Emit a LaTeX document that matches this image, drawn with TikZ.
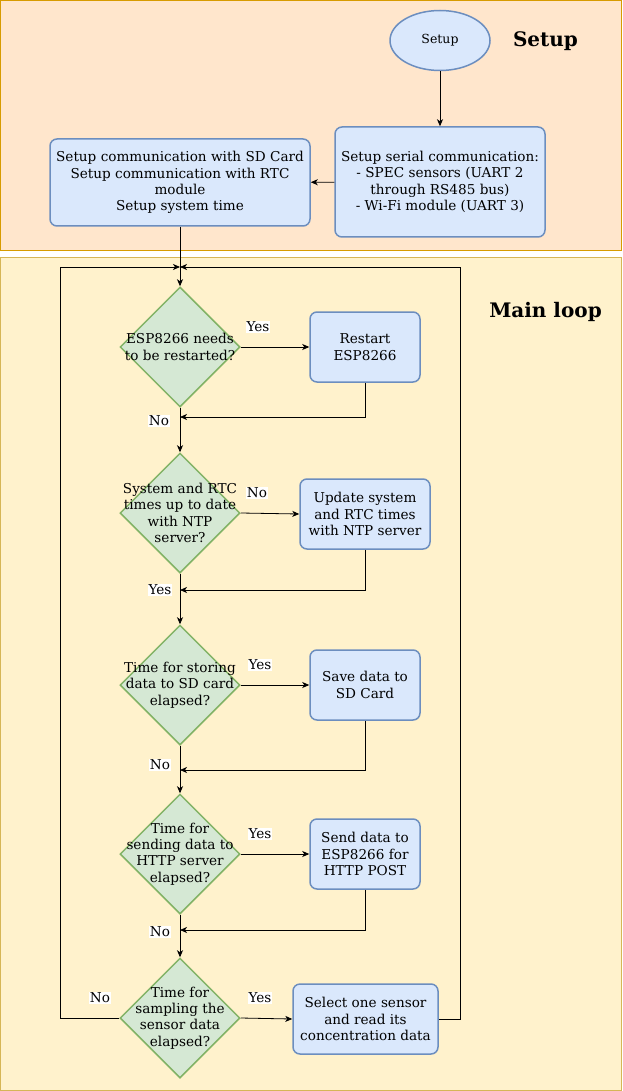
\documentclass[tikz,border=0pt]{standalone}
\usepackage{fontspec}
\setmainfont{DejaVu Serif}
\usetikzlibrary{shapes.geometric,arrows.meta}
\definecolor{setupfill}{HTML}{FFE6CC}
\definecolor{setupline}{HTML}{D79B00}
\definecolor{loopfill}{HTML}{FFF2CC}
\definecolor{loopline}{HTML}{D6B656}
\definecolor{bluefill}{HTML}{DAE8FC}
\definecolor{blueline}{HTML}{6C8EBF}
\definecolor{greenfill}{HTML}{D5E8D4}
\definecolor{greenline}{HTML}{82B366}
\tikzset{
  txt/.style={font=\fontsize{13.6}{16.3}\selectfont, align=center},
  procbox/.style={txt, draw=blueline, fill=bluefill, line width=1.5pt, rounded corners=7pt, inner sep=1pt},
  decbox/.style={diamond, draw=greenline, fill=greenfill, line width=1.5pt, minimum width=120, minimum height=120, inner sep=0pt, aspect=1},
  arr/.style={-{Stealth[length=7pt,width=6pt,inset=2pt]}, line width=0.8pt},
  lbl/.style={font=\fontsize{13.6}{16}\selectfont, fill=white, inner sep=1pt},
  title/.style={font=\fontsize{20}{24}\selectfont\bfseries}
}
\begin{document}
\begin{tikzpicture}[x=1pt,y=-1pt]
\useasboundingbox (0,0) rectangle (622,1091);
% backgrounds
\draw[fill=setupfill, draw=setupline, line width=1pt] (0.5,0.5) rectangle (621.5,250);
\draw[fill=loopfill, draw=loopline, line width=1pt] (0.5,257.5) rectangle (621.5,1090.5);
\node[title] (tsetup) at (545.5,41) {Setup};
\node[title] (tloop) at (545.5,312) {Main loop};
% setup nodes
\node[ellipse, draw=blueline, fill=bluefill, line width=1.5pt, minimum width=100, minimum height=60, inner sep=0pt, font=\fontsize{12.5}{15}\selectfont] (start) at (440,40.5) {Setup};
\node[procbox, minimum width=210, minimum height=110] (serial) at (440,182) {Setup serial communication:\\- SPEC sensors (UART 2\\through RS485 bus)\\- Wi-Fi module (UART 3)};
\node[procbox, minimum width=260, minimum height=87] (sd) at (180,182.5) {Setup communication with SD Card\\Setup communication with RTC\\module\\Setup system time};
% decisions
\node[decbox, label={[txt]center:ESP8266 needs\\to be restarted?}] (d1) at (180,347) {};
\node[decbox, label={[txt]center:System and RTC\\times up to date\\with NTP\\server?}] (d2) at (180,513) {};
\node[decbox, label={[txt]center:Time for storing\\data to SD card\\elapsed?}] (d3) at (180,685) {};
\node[decbox, label={[txt]center:Time for\\sending data to\\HTTP server\\elapsed?}] (d4) at (180,854) {};
\node[decbox, label={[txt]center:Time for\\sampling the\\sensor data\\elapsed?}] (d5) at (180,1018) {};
% processes
\node[procbox, minimum width=110, minimum height=70] (rst) at (365,347) {Restart\\ESP8266};
\node[procbox, minimum width=130, minimum height=70] (upd) at (365,514) {Update system\\and RTC times\\with NTP server};
\node[procbox, minimum width=110, minimum height=70] (save) at (365,685) {Save data to\\SD Card};
\node[procbox, minimum width=110, minimum height=70] (send) at (365,854) {Send data to\\ESP8266 for\\HTTP POST};
\node[procbox, minimum width=145, minimum height=70] (sel) at (365.5,1019) {Select one sensor\\and read its\\concentration data};
% coordinates
\coordinate (top) at (180,267);
\coordinate (lx) at (60,267);
\coordinate (rx) at (460,267);
\coordinate (m1) at (180,417);
\coordinate (m2) at (180,590);
\coordinate (m3) at (180,770);
\coordinate (m4) at (180,930);
% setup connectors
\draw[arr] (start) -- (serial);
\draw[arr] (serial) -- (sd);
\draw[arr] (sd) -- (d1);
% main connectors
\draw[arr] (d1) -- (d2);
\draw[arr] (d2) -- (d3);
\draw[arr] (d3) -- (d4);
\draw[arr] (d4) -- (d5);
\draw[arr] (d1) -- (rst);
\draw[arr] (d2.east) -- (upd.west);
\draw[arr] (d3) -- (save);
\draw[arr] (d4) -- (send);
\draw[arr] (d5.east) -- (sel.west);
\draw[arr] (rst.south) |- (m1);
\draw[arr] (upd.south) |- (m2);
\draw[arr] (save.south) |- (m3);
\draw[arr] (send.south) |- (m4);
\draw[arr] (sel.east) -| (rx) -- (top);
\draw[arr] (d5.west) -| (lx) -- (top);
% labels
\node[lbl] (y1) at (258,327) {Yes};
\node[lbl] (n1) at (159,421) {No};
\node[lbl] (n2) at (257,493) {No};
\node[lbl] (y2) at (160,590) {Yes};
\node[lbl] (y3) at (260,665) {Yes};
\node[lbl] (n3) at (160,765) {No};
\node[lbl] (y4) at (260,834) {Yes};
\node[lbl] (n4) at (160,932) {No};
\node[lbl] (y5) at (260,998) {Yes};
\node[lbl] (n5) at (100,998) {No};
\end{tikzpicture}
\end{document}
